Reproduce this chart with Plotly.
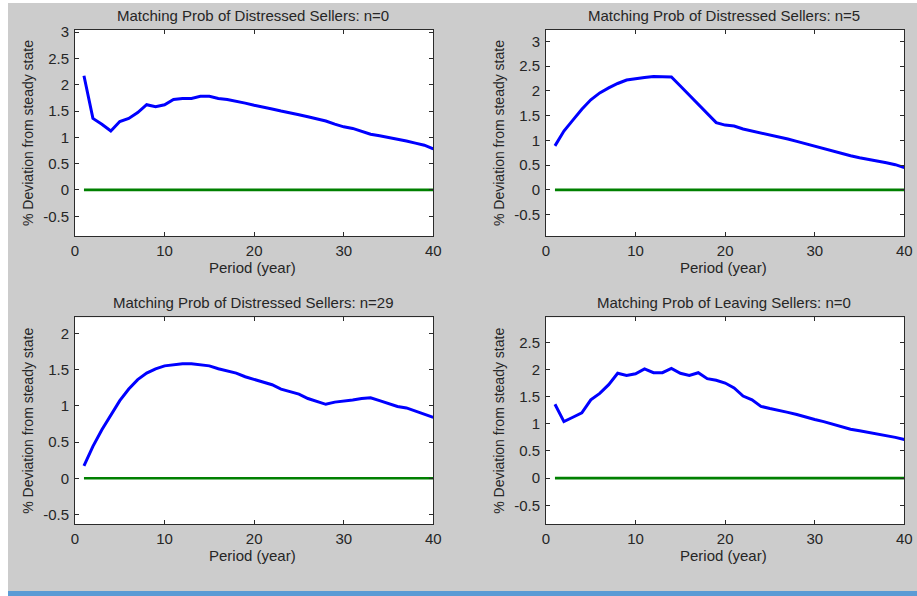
import plotly.graph_objects as go

# Impulse responses: % deviation from steady state over 40 periods (years)
periods = list(range(1, 41))

distressed_n0 = [2.17, 1.36, 1.25, 1.12, 1.30, 1.36, 1.47, 1.62, 1.58, 1.62,
                 1.72, 1.74, 1.74, 1.78, 1.78, 1.74, 1.72, 1.69, 1.65, 1.61,
                 1.58, 1.54, 1.50, 1.47, 1.43, 1.39, 1.35, 1.31, 1.25, 1.20,
                 1.17, 1.12, 1.06, 1.03, 1.00, 0.96, 0.93, 0.89, 0.85, 0.78]

distressed_n5 = [0.89, 1.19, 1.41, 1.63, 1.82, 1.96, 2.06, 2.15, 2.22, 2.25,
                 2.27, 2.29, 2.29, 2.28, 2.10, 1.91, 1.73, 1.55, 1.36, 1.31,
                 1.29, 1.23, 1.19, 1.15, 1.12, 1.07, 1.03, 0.98, 0.93, 0.88,
                 0.84, 0.78, 0.73, 0.69, 0.65, 0.62, 0.58, 0.55, 0.51, 0.45]

distressed_n29 = [0.17, 0.44, 0.67, 0.87, 1.07, 1.23, 1.36, 1.45, 1.51, 1.55,
                  1.565, 1.58, 1.58, 1.565, 1.55, 1.51, 1.48, 1.45, 1.40, 1.36,
                  1.32, 1.29, 1.23, 1.19, 1.16, 1.10, 1.06, 1.02, 1.05, 1.06,
                  1.08, 1.10, 1.11, 1.07, 1.03, 0.99, 0.97, 0.93, 0.89, 0.84]

leaving_n0 = [1.36, 1.04, 1.12, 1.20, 1.44, 1.56, 1.72, 1.93, 1.89, 1.92,
              2.01, 1.94, 1.94, 2.02, 1.93, 1.89, 1.94, 1.83, 1.80, 1.75,
              1.66, 1.51, 1.44, 1.32, 1.28, 1.25, 1.21, 1.17, 1.12, 1.08,
              1.04, 0.99, 0.94, 0.90, 0.87, 0.84, 0.81, 0.79, 0.75, 0.71]

steady_state = [0.0] * 40

titles = ["Matching Prob of Distressed Sellers: n=0",
          "Matching Prob of Distressed Sellers: n=5",
          "Matching Prob of Distressed Sellers: n=29",
          "Matching Prob of Leaving Sellers: n=0"]
x_label = "Period (year)"
y_label = "% Deviation from steady state"

x_ticks = [0, 10, 20, 30, 40]
y_ticks_a = [-0.5, 0, 0.5, 1, 1.5, 2, 2.5, 3]
y_ticks_c = [-0.5, 0, 0.5, 1, 1.5, 2]
y_ticks_d = [-0.5, 0, 0.5, 1, 1.5, 2, 2.5]
y_ranges = [[-0.875, 3.04], [-0.93, 3.23], [-0.635, 2.22], [-0.85, 2.96]]

W, H = 917, 596
FONT = "Liberation Sans"
TXT = "#262626"


def fx(px):
    return px / W


def fy(py):
    return (H - py) / H


def tick_text(vals):
    # plain hyphen-minus labels such as "-0.5"
    return ["%g" % v for v in vals]


series = [distressed_n0, distressed_n5, distressed_n29, leaving_n0]
y_tick_sets = [y_ticks_a, y_ticks_a, y_ticks_c, y_ticks_d]

# panel boxes in pixels: left, right, top, bottom
boxes = [(75, 433.3, 30, 236), (546, 904.3, 30, 236),
         (75, 433.3, 317.3, 524.3), (546, 904.3, 317.3, 524.3)]

fig = go.Figure()
layout = dict(
    width=W, height=H,
    margin=dict(l=0, r=0, t=0, b=0, autoexpand=False),
    paper_bgcolor="#cccccc",
    plot_bgcolor="white",
    showlegend=False,
    font=dict(family=FONT, size=15, color=TXT),
)

annotations = []
for i, (vals, box) in enumerate(zip(series, boxes)):
    k = "" if i == 0 else str(i + 1)
    xa, ya = "x" + k, "y" + k
    fig.add_trace(go.Scatter(x=periods, y=steady_state, mode="lines",
                             line=dict(color="#008000", width=2.7),
                             xaxis=xa, yaxis=ya, hoverinfo="skip"))
    fig.add_trace(go.Scatter(x=periods, y=vals, mode="lines",
                             line=dict(color="#0000ff", width=3),
                             xaxis=xa, yaxis=ya))
    l, r, t, b = box
    axis_common = dict(showline=True, linecolor="#2b2b2b", linewidth=1,
                       mirror="ticks", ticks="inside", ticklen=4,
                       tickcolor="#2b2b2b", showgrid=False, zeroline=False,
                       automargin=False,
                       tickfont=dict(family=FONT, size=15, color=TXT))
    layout["xaxis" + k] = dict(axis_common, domain=[fx(l), fx(r)],
                               range=[0, 40], tickvals=x_ticks,
                               ticktext=tick_text(x_ticks),
                               anchor=ya, ticklabelstandoff=1)
    yt = y_tick_sets[i]
    layout["yaxis" + k] = dict(axis_common, domain=[fy(b), fy(t)],
                               range=y_ranges[i], tickvals=yt,
                               ticktext=tick_text(yt), anchor=xa,
                               ticklabelstandoff=2)
    cx = (l + r) / 2
    annotations.append(dict(text=titles[i], x=fx(cx - 1), y=fy(t - 15),
                            xref="paper", yref="paper", showarrow=False,
                            xanchor="center", yanchor="middle",
                            font=dict(family=FONT, size=15, color=TXT)))
    annotations.append(dict(text=x_label, x=fx(cx - 2), y=fy(b + 31),
                            xref="paper", yref="paper", showarrow=False,
                            xanchor="center", yanchor="middle",
                            font=dict(family=FONT, size=15, color=TXT)))
    annotations.append(dict(text=y_label, x=fx(l - 47), y=fy((t + b) / 2),
                            xref="paper", yref="paper", showarrow=False,
                            textangle=-90, xanchor="center", yanchor="middle",
                            font=dict(family=FONT, size=14, color=TXT)))

layout["annotations"] = annotations
layout["shapes"] = [
    # white strips along the left and top edges
    dict(type="rect", xref="paper", yref="paper", x0=0, x1=fx(8), y0=0, y1=1,
         fillcolor="white", line=dict(width=0), layer="above"),
    dict(type="rect", xref="paper", yref="paper", x0=0, x1=1, y0=fy(3), y1=1,
         fillcolor="white", line=dict(width=0), layer="above"),
    # blue band along the bottom edge
    dict(type="rect", xref="paper", yref="paper", x0=fx(8), x1=1, y0=0,
         y1=fy(591), fillcolor="#5b9bd5", line=dict(width=0), layer="above"),
]

fig.update_layout(**layout)
fig.write_html("out.html")
